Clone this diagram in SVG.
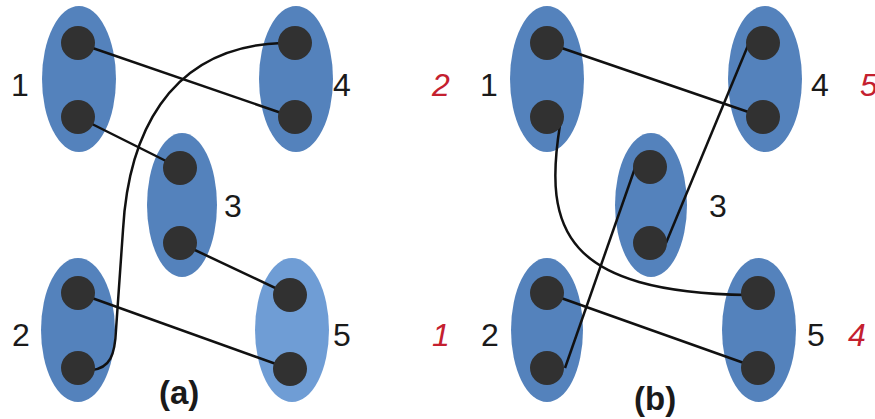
<svg xmlns="http://www.w3.org/2000/svg" width="875" height="419" viewBox="0 0 875 419">
<style>
.blob{fill:#5482bc}
.light{fill:#6f9dd5}
.dot{fill:#313131}
.ln{fill:none;stroke:#111111;stroke-width:2.5}
.lbl{font-family:"Liberation Sans",Arial,sans-serif;font-size:32px;fill:#1a1a1a}
.red{font-family:"Liberation Sans",Arial,sans-serif;font-size:32px;fill:#c4202f;font-style:italic}
.cap{font-family:"Liberation Sans",Arial,sans-serif;font-size:33px;font-weight:bold;fill:#1a1a1a}
</style>
<rect width="875" height="419" fill="#ffffff"/>
<!-- panel a blobs -->
<g id="a1"><ellipse class="blob" cx="79" cy="79" rx="37" ry="73"/></g>
<g id="a4"><ellipse class="blob" cx="296" cy="79" rx="37" ry="73"/></g>
<g id="a3"><ellipse class="blob" cx="182" cy="205" rx="35" ry="72"/></g>
<g id="a2"><ellipse class="blob" cx="78" cy="330" rx="37" ry="72"/></g>
<g id="a5"><ellipse class="light" cx="292" cy="330" rx="37" ry="72"/></g>
<!-- panel b blobs -->
<g id="b1"><ellipse class="blob" cx="547" cy="79" rx="37" ry="73"/></g>
<g id="b4"><ellipse class="blob" cx="765" cy="79" rx="37" ry="73"/></g>
<g id="b3"><ellipse class="blob" cx="651" cy="205" rx="36" ry="72"/></g>
<g id="b2"><ellipse class="blob" cx="547" cy="330" rx="36" ry="72"/></g>
<g id="b5"><ellipse class="blob" cx="759" cy="330" rx="37" ry="72"/></g>
<!-- connectors -->
<g id="connectors">
<line class="ln" x1="78" y1="43" x2="293" y2="117"/>
<line class="ln" x1="78" y1="117" x2="180" y2="168"/>
<line class="ln" x1="180" y1="243" x2="290" y2="295"/>
<line class="ln" x1="78" y1="293" x2="290" y2="369"/>
<path class="ln" d="M 92 370 C 110 368, 115 355, 116 330 L 123 230 C 128 140, 165 47, 282 43"/>
<line class="ln" x1="547" y1="43" x2="763" y2="117"/>
<line class="ln" x1="749" y1="43" x2="666" y2="243"/>
<line class="ln" x1="635" y1="168" x2="565" y2="368"/>
<path class="ln" d="M 560 125 C 543 230, 565 292, 748 295"/>
<line class="ln" x1="547" y1="293" x2="758" y2="368"/>
</g>
<!-- dots -->
<g id="dots">
<circle class="dot" cx="78" cy="43" r="17"/><circle class="dot" cx="78" cy="117" r="17"/>
<circle class="dot" cx="295" cy="43" r="17"/><circle class="dot" cx="295" cy="117" r="17"/>
<circle class="dot" cx="180" cy="168" r="17"/><circle class="dot" cx="180" cy="243" r="17"/>
<circle class="dot" cx="78" cy="293" r="17"/><circle class="dot" cx="78" cy="368" r="17"/>
<circle class="dot" cx="290" cy="295" r="17"/><circle class="dot" cx="290" cy="369" r="17"/>
<circle class="dot" cx="547" cy="43" r="17"/><circle class="dot" cx="547" cy="117" r="17"/>
<circle class="dot" cx="763" cy="43" r="17"/><circle class="dot" cx="763" cy="117" r="17"/>
<circle class="dot" cx="650" cy="167" r="17"/><circle class="dot" cx="650" cy="243" r="17"/>
<circle class="dot" cx="547" cy="293" r="17"/><circle class="dot" cx="547" cy="368" r="17"/>
<circle class="dot" cx="758" cy="293" r="17"/><circle class="dot" cx="758" cy="368" r="17"/>
</g>
<!-- labels -->
<g id="labels">
<text class="lbl" x="11" y="96">1</text>
<text class="lbl" x="333" y="96">4</text>
<text class="lbl" x="224" y="217">3</text>
<text class="lbl" x="12" y="346">2</text>
<text class="lbl" x="333" y="346">5</text>
<text class="cap" x="159" y="404">(a)</text>
<text class="red" x="432" y="96">2</text>
<text class="lbl" x="480" y="96">1</text>
<text class="lbl" x="811" y="96">4</text>
<text class="red" x="860" y="96">5</text>
<text class="lbl" x="709" y="217">3</text>
<text class="red" x="432" y="346">1</text>
<text class="lbl" x="481" y="346">2</text>
<text class="lbl" x="807" y="346">5</text>
<text class="red" x="848" y="346">4</text>
<text class="cap" x="634" y="410">(b)</text>
</g>
</svg>
